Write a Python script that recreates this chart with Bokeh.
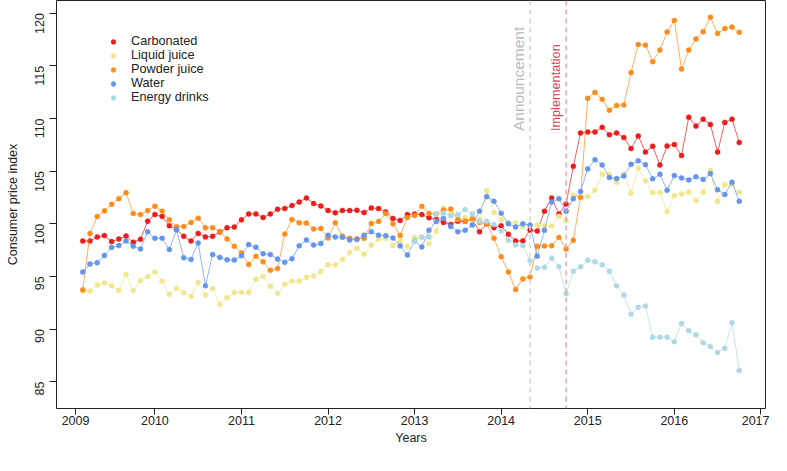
import math
from bokeh.plotting import figure
from bokeh.models import Range1d, FixedTicker, Span, Label, Legend, LegendItem
from bokeh.embed import file_html
from bokeh.resources import INLINE

# month index: 1 = Jan 2009 ; data run Feb 2009 (2) .. Sep 2016 (93)
months = list(range(2, 94))

carbonated = [98.36, 98.36, 98.74, 98.87, 98.30, 98.55, 98.83, 98.24, 98.52, 100.24,
              100.87, 100.68, 99.81, 99.43, 98.80, 98.36, 99.08, 98.74, 98.80, 99.21,
              99.62, 99.68, 100.37, 100.93, 100.93, 100.59, 100.93, 101.37, 101.44, 101.72,
              102.06, 102.44, 101.91, 101.69, 101.25, 101.03, 101.25, 101.25, 101.28, 101.06,
              101.50, 101.44, 101.12, 100.50, 100.31, 100.87, 100.93, 100.87, 100.56, 100.43,
              100.12, 99.93, 100.24, 100.24, 100.40, 99.24, 99.99, 99.62, 99.81, 98.99,
              98.36, 98.36, 99.40, 99.30, 101.19, 102.44, 100.93, 101.88, 105.45, 108.62,
              108.71, 108.71, 109.15, 108.46, 108.62, 108.18, 107.14, 108.33, 106.80, 107.36,
              105.57, 107.39, 107.52, 106.48, 110.12, 109.27, 109.93, 109.43, 106.80, 109.62,
              109.93, 107.71]

liquid_juice = [93.60, 93.60, 94.19, 94.38, 94.10, 93.66, 95.17, 93.66, 94.60, 94.98,
                95.42, 94.54, 93.28, 93.85, 93.44, 93.10, 94.44, 93.22, 93.85, 92.34,
                92.97, 93.47, 93.47, 93.47, 94.73, 94.98, 94.07, 93.38, 94.25, 94.54,
                94.54, 94.91, 95.04, 95.45, 96.11, 96.09, 96.61, 97.27, 97.67, 97.11,
                97.99, 98.54, 98.61, 97.94, 98.36, 97.83, 98.70, 98.68, 98.12, 99.30,
                101.50, 100.90, 100.40, 100.60, 100.20, 100.40, 103.13, 101.06, 100.40, 100.10,
                100.06, 99.70, 99.87, 99.87, 99.80, 99.77, 100.70, 100.28, 102.72, 102.50,
                102.56, 103.19, 104.70, 104.67, 103.92, 104.71, 102.91, 105.26, 104.07, 102.94,
                102.98, 101.15, 102.68, 102.82, 103.00, 102.19, 103.00, 105.05, 102.13, 103.69,
                103.76, 103.00]

powder_juice = [93.72, 99.08, 100.68, 101.22, 101.84, 102.38, 102.94, 100.97, 100.87, 101.25,
                101.66, 101.19, 100.37, 99.71, 99.74, 100.12, 100.53, 99.62, 99.62, 99.27,
                98.55, 97.86, 97.23, 96.13, 96.90, 96.38, 95.57, 95.74, 99.02, 100.40,
                100.09, 100.06, 99.49, 99.55, 98.65, 100.09, 98.80, 98.61, 98.58, 98.61,
                100.02, 100.21, 100.96, 99.99, 98.89, 100.59, 100.78, 101.65, 100.98, 100.93,
                101.31, 101.40, 100.40, 100.24, 100.50, 100.12, 99.99, 98.61, 96.86, 95.42,
                93.75, 94.76, 94.93, 97.86, 97.89, 97.90, 98.70, 97.60, 98.43, 102.50,
                111.91, 112.47, 111.81, 110.78, 111.22, 111.28, 114.35, 117.02, 116.96, 115.39,
                116.49, 118.21, 119.31, 114.70, 116.49, 117.55, 118.24, 119.62, 118.06, 118.53,
                118.68, 118.18]

water = [95.42, 96.17, 96.29, 96.98, 97.74, 97.92, 98.36, 97.86, 97.61, 99.24,
         98.61, 98.61, 97.55, 99.43, 96.76, 96.61, 98.18, 94.10, 97.08, 96.80,
         96.58, 96.55, 96.95, 98.02, 97.77, 97.15, 97.08, 96.64, 96.34, 96.68,
         97.90, 98.46, 97.97, 98.12, 98.90, 98.74, 98.71, 98.46, 98.50, 98.91,
         99.24, 98.91, 98.86, 98.64, 97.89, 97.03, 98.36, 97.80, 99.38, 100.21,
         100.50, 99.74, 99.24, 99.37, 99.87, 101.19, 102.57, 102.13, 101.00, 99.99,
         99.68, 99.99, 99.87, 96.92, 99.37, 102.06, 102.38, 101.19, 102.38, 103.07,
         105.20, 106.08, 105.57, 104.38, 104.29, 104.54, 105.64, 105.98, 105.61, 104.26,
         104.70, 103.19, 104.57, 104.35, 104.16, 104.45, 104.20, 104.76, 103.22, 102.78,
         103.94, 102.13]

# energy drinks start Dec 2012 (month index 48)
energy_months = list(range(48, 94))
energy_drinks = [98.36, 98.74, 98.74, 100.93, 101.00, 100.75, 100.87, 101.34, 100.93, 100.24,
                 100.24, 99.93, 99.30, 98.43, 97.99, 97.92, 96.48, 95.79, 95.86, 96.73,
                 95.92, 93.35, 95.48, 95.92, 96.54, 96.39, 96.11, 95.48, 94.10, 93.22,
                 91.40, 92.06, 92.18, 89.21, 89.21, 89.21, 88.80, 90.52, 89.83, 89.46,
                 88.70, 88.33, 87.76, 88.17, 90.59, 86.07]

tick_positions = [1, 12, 24, 36, 48, 60, 72, 84, 96]
tick_labels = ["2009", "2010", "2011", "2012", "2013", "2014", "2015", "2016", "2017"]
y_ticks = [85, 90, 95, 100, 105, 110, 115, 120]

announcement_month = 64
implementation_month = 69

series = [
    ("Carbonated", months, carbonated, "#EE1B1B"),
    ("Liquid juice", months, liquid_juice, "#F0E68C"),
    ("Powder juice", months, powder_juice, "#FF8C1A"),
    ("Water", months, water, "#6495ED"),
    ("Energy drinks", energy_months, energy_drinks, "#ADD8E6"),
]

FONT = "Liberation Sans"
X0, X1 = -1.64, 96.64
Y0, Y1 = 82.45, 121.2

p = figure(width=769, height=447, output_backend="svg", toolbar_location=None,
           x_range=Range1d(X0, X1), y_range=Range1d(Y0, Y1),
           min_border_left=56, min_border_right=4, min_border_top=0, min_border_bottom=38)
p.background_fill_color = "white"
p.border_fill_color = "white"
p.outline_line_color = "#222222"
p.outline_line_width = 1
p.xgrid.visible = False
p.ygrid.visible = False

# axes
xa = p.xaxis[0]
xa.ticker = FixedTicker(ticks=tick_positions)
xa.major_label_overrides = {t: l for t, l in zip(tick_positions, tick_labels)}
xa.axis_label = "Years"
ya = p.yaxis[0]
ya.ticker = FixedTicker(ticks=y_ticks)
ya.major_label_orientation = math.pi / 2
ya.axis_label = "Consumer price index"

for ax in (xa, ya):
    ax.axis_line_color = None
    ax.major_tick_out = 7
    ax.major_tick_in = 0
    ax.minor_tick_line_color = None
    ax.major_tick_line_color = "#222222"
    ax.major_label_text_font = FONT
    ax.major_label_text_font_size = "12.5px"
    ax.major_label_text_color = "#222222"
    ax.axis_label_text_font = FONT
    ax.axis_label_text_font_size = "12.5px"
    ax.axis_label_text_font_style = "normal"
    ax.axis_label_text_color = "#222222"
xa.major_tick_out = 6
xa.major_label_standoff = 1
xa.axis_label_standoff = 3
ya.major_label_standoff = 10
ya.axis_label_standoff = 8

# policy lines
ann = Span(location=announcement_month, dimension="height", line_color="#D4D4D4",
           line_dash="5 4", line_width=1.5)
imp = Span(location=implementation_month, dimension="height", line_color="#F0A0AE",
           line_dash="5 4", line_width=1.5)
p.add_layout(ann)
p.add_layout(imp)
p.add_layout(Label(x=announcement_month, y=108.8, x_offset=-3, text="Announcement",
                   angle=math.pi / 2, text_align="left", text_baseline="bottom",
                   text_font=FONT, text_font_size="15.5px", text_color="#BBBBBB"))
p.add_layout(Label(x=implementation_month, y=108.8, x_offset=-3, text="Implementation",
                   angle=math.pi / 2, text_align="left", text_baseline="bottom",
                   text_font=FONT, text_font_size="12.7px", text_color="#DC4560"))

items = []
for name, xs, ys, col in series:
    p.line(xs, ys, line_color=col, line_width=1, line_alpha=0.7)
    r = p.scatter(xs, ys, size=5, fill_color=col, line_color=col, line_width=0.5)
    items.append(LegendItem(label=name, renderers=[r]))

legend = Legend(items=items, location=(51, 304), border_line_color=None,
                background_fill_alpha=0, padding=0, margin=0, spacing=0,
                glyph_width=12, glyph_height=13, label_height=13, label_standoff=12,
                label_text_font=FONT, label_text_font_size="12.7px",
                label_text_color="#222222")
p.add_layout(legend)

open("out.html", "w").write(file_html(p, INLINE))
